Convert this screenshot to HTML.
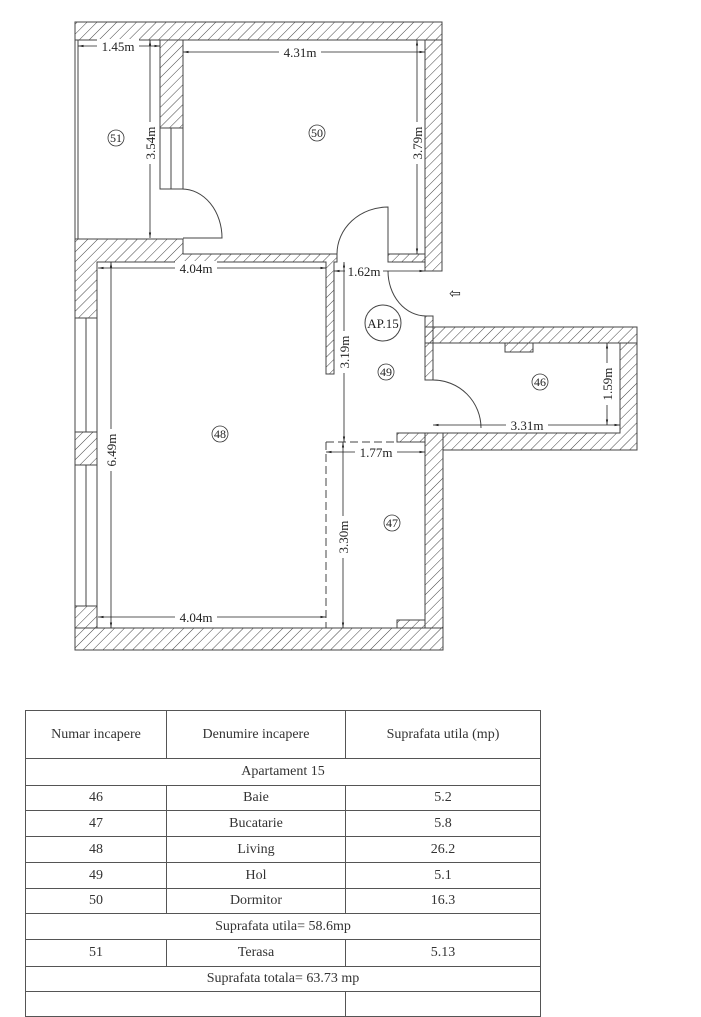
<!DOCTYPE html>
<html><head><meta charset="utf-8"><style>
body{margin:0;background:#fff;width:701px;height:998px;overflow:hidden;font-family:"Liberation Serif",serif;}
svg{position:absolute;left:0;top:0}
table{position:absolute;left:25px;top:710px;width:516px;border-collapse:collapse;font-size:14px;color:#333;}
td{border:1px solid #555;text-align:center;height:24px;padding:0;}
</style></head><body>
<svg width="701" height="700" viewBox="0 0 701 700" font-family="Liberation Serif, serif" font-size="13" fill="none">
<defs>
<pattern id="h" width="7" height="7" patternUnits="userSpaceOnUse" patternTransform="rotate(45)">
<line x1="0" y1="0" x2="0" y2="7" stroke="#444" stroke-width="1"/></pattern>
<marker id="a" viewBox="0 0 10 10" refX="10" refY="5" markerWidth="7" markerHeight="7" orient="auto-start-reverse"><path d="M0,3L10,5L0,7z" fill="#222"/></marker>
</defs>
<g fill="url(#h)" stroke="#444" stroke-width="1">
<rect x="75" y="22" width="367" height="18"/>
<rect x="425" y="40" width="17" height="231"/>
<rect x="160" y="40" width="23" height="88"/>
<path d="M75,239H183V254H337V262H334V374H326V262H97V318H75Z"/>
<rect x="388" y="254" width="37" height="8"/>
<rect x="75" y="432" width="22" height="33"/>
<rect x="75" y="606" width="22" height="22"/>
<rect x="75" y="628" width="368" height="22"/>
<rect x="425" y="433" width="18" height="195"/>
<rect x="397" y="433" width="28" height="9"/>
<rect x="397" y="620" width="28" height="8"/>
<rect x="425" y="327" width="212" height="16"/>
<rect x="425" y="316" width="8" height="64"/>
<path d="M620,343H637V450H443V433H620Z"/>
<rect x="505" y="343" width="28" height="9"/>
</g>
<g stroke="#444" stroke-width="1">
<line x1="78" y1="40" x2="78" y2="239"/><line x1="75" y1="40" x2="75" y2="239"/>
<rect x="160" y="128" width="23" height="61"/><line x1="171" y1="128" x2="171" y2="189"/>
<rect x="75" y="318" width="22" height="114"/><line x1="86" y1="318" x2="86" y2="432"/>
<rect x="75" y="465" width="22" height="141"/><line x1="86" y1="465" x2="86" y2="606"/>
<path d="M182,189A40,49 0 0 1 222,238H183"/>
<path d="M388,254V207A51,47 0 0 0 337,254"/>
<path d="M388,271A38,45 0 0 0 426,316"/>
<path d="M433,380A48,48 0 0 1 481,428"/>
<path d="M326,442H425M326,442V628" stroke-dasharray="8,4"/>
<circle cx="383" cy="323" r="18"/>
</g>
<g stroke="#222" stroke-width="0.8" marker-start="url(#a)" marker-end="url(#a)">
<line x1="78" y1="46" x2="160" y2="46"/>
<line x1="183" y1="52" x2="425" y2="52"/>
<line x1="150" y1="40" x2="150" y2="238"/>
<line x1="417" y1="40" x2="417" y2="254"/>
<line x1="98" y1="268" x2="326" y2="268"/>
<line x1="111" y1="262" x2="111" y2="628"/>
<line x1="334" y1="271" x2="425" y2="271"/>
<line x1="344" y1="262" x2="344" y2="442"/>
<line x1="326" y1="452" x2="425" y2="452"/>
<line x1="343" y1="442" x2="343" y2="628"/>
<line x1="98" y1="617" x2="326" y2="617"/>
<line x1="433" y1="425" x2="620" y2="425"/>
<line x1="607" y1="343" x2="607" y2="425"/>
</g>
<g fill="#222" text-anchor="middle" stroke="none">
<g fill="#fff"><rect x="97" y="39" width="42" height="14"/><rect x="279" y="45" width="42" height="14"/><rect x="175" y="261" width="42" height="14"/><rect x="345" y="264" width="38" height="14"/><rect x="355" y="445" width="42" height="14"/><rect x="175" y="610" width="42" height="14"/><rect x="506" y="418" width="42" height="14"/>
<rect x="143" y="122" width="14" height="42"/><rect x="410" y="122" width="14" height="42"/><rect x="104" y="429" width="14" height="42"/><rect x="337" y="331" width="14" height="42"/><rect x="336" y="516" width="14" height="42"/><rect x="600" y="363" width="14" height="42"/></g>
<text x="118" y="51">1.45m</text><text x="300" y="57">4.31m</text><text x="196" y="273">4.04m</text>
<text x="364" y="276">1.62m</text><text x="376" y="457">1.77m</text><text x="196" y="622">4.04m</text><text x="527" y="430">3.31m</text>
<text transform="translate(155,143) rotate(-90)">3.54m</text>
<text transform="translate(422,143) rotate(-90)">3.79m</text>
<text transform="translate(116,450) rotate(-90)">6.49m</text>
<text transform="translate(349,352) rotate(-90)">3.19m</text>
<text transform="translate(348,537) rotate(-90)">3.30m</text>
<text transform="translate(612,384) rotate(-90)">1.59m</text>
<text x="383" y="328">AP.15</text>
<text x="455" y="298" font-size="14">⇦</text>
</g>
<g font-size="12" fill="#222" text-anchor="middle">
<g stroke="#333" stroke-width="0.8" fill="none">
<circle cx="116" cy="138" r="8"/><circle cx="317" cy="133" r="8"/><circle cx="220" cy="434" r="8"/>
<circle cx="386" cy="372" r="8"/><circle cx="540" cy="382" r="8"/><circle cx="392" cy="523" r="8"/></g>
<text x="116" y="142">51</text><text x="317" y="137">50</text><text x="220" y="438">48</text>
<text x="386" y="376">49</text><text x="540" y="386">46</text><text x="392" y="527">47</text>
</g>
</svg>
<table>
<tr><td style="width:140px;height:47px">Numar incapere</td><td style="width:178px">Denumire incapere</td><td>Suprafata utila (mp)</td></tr>
<tr><td colspan="3" style="height:26px">Apartament 15</td></tr>
<tr><td>46</td><td>Baie</td><td>5.2</td></tr>
<tr><td style="height:25px">47</td><td>Bucatarie</td><td>5.8</td></tr>
<tr><td style="height:25px">48</td><td>Living</td><td>26.2</td></tr>
<tr><td style="height:25px">49</td><td>Hol</td><td>5.1</td></tr>
<tr><td style="height:24px">50</td><td>Dormitor</td><td>16.3</td></tr>
<tr><td colspan="3" style="height:25px">Suprafata utila= 58.6mp</td></tr>
<tr><td style="height:26px">51</td><td>Terasa</td><td>5.13</td></tr>
<tr><td colspan="3" style="height:24px">Suprafata totala= 63.73 mp</td></tr>
<tr><td colspan="2" style="height:20px"></td><td></td></tr>
</table>
</body></html>
